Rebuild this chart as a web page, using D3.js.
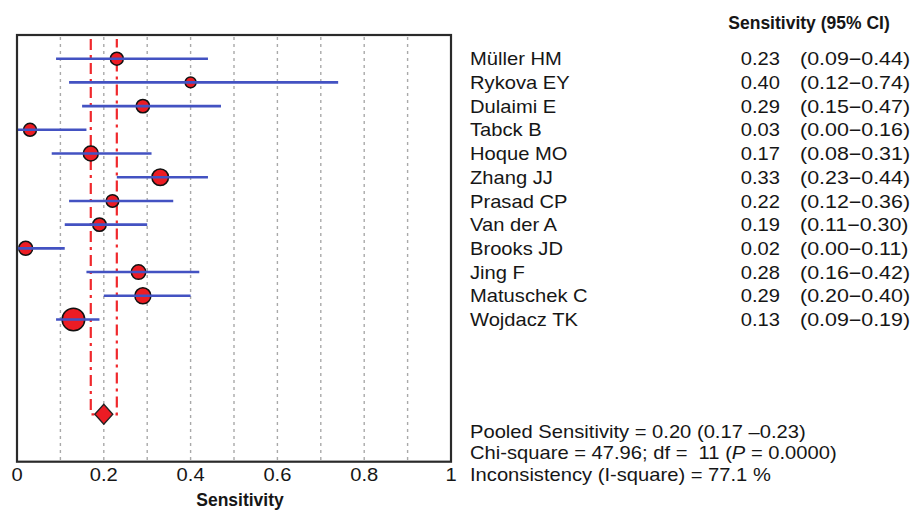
<!DOCTYPE html>
<html>
<head>
<meta charset="utf-8">
<script src="https://cdn.jsdelivr.net/npm/d3@7"></script>
<style>
  html, body { margin: 0; padding: 0; background: #fff; }
  svg { display: block; }
  text { font-family: "Liberation Sans", Arial, sans-serif; fill: #161616; white-space: pre; }
</style>
</head>
<body>
<svg id="chart" width="910" height="512"></svg>
<script>
// Study-level sensitivity estimates with 95% confidence intervals
const studies = ["Müller HM", "Rykova EY", "Dulaimi E", "Tabck B", "Hoque MO", "Zhang JJ",
                 "Prasad CP", "Van der A", "Brooks JD", "Jing F", "Matuschek C", "Wojdacz TK"];
const sensitivity = [0.23, 0.40, 0.29, 0.03, 0.17, 0.33, 0.22, 0.19, 0.02, 0.28, 0.29, 0.13];
const ciLower     = [0.09, 0.12, 0.15, 0.00, 0.08, 0.23, 0.12, 0.11, 0.00, 0.16, 0.20, 0.09];
const ciUpper     = [0.44, 0.74, 0.47, 0.16, 0.31, 0.44, 0.36, 0.30, 0.11, 0.42, 0.40, 0.19];
// Relative study weights (%), shown as marker area
const weights     = [6.3, 4.5, 6.8, 6.3, 8.5, 10.4, 6.0, 6.8, 7.4, 7.9, 9.7, 19.3];

// Pooled estimate
const pooledEstimate = 0.20;
const pooledLower = 0.17;
const pooledUpper = 0.23;

// Axis ticks
const xTickValues = [0, 0.2, 0.4, 0.6, 0.8, 1];
const xTickLabels = ["0", "0.2", "0.4", "0.6", "0.8", "1"];
const gridValues  = [0.1, 0.2, 0.3, 0.4, 0.5, 0.6, 0.7, 0.8, 0.9];

// Summary statistics text
const summaryLines = [
  ["Pooled Sensitivity = 0.20 (0.17 \u20130.23)"],
  ["Chi-square = 47.96; df =  11 (", {italic: "P"}, " = 0.0000)"],
  ["Inconsistency (I-square) = 77.1 %"]
];

const svg = d3.select("#chart");
const box = {left: 17, right: 451, top: 35, bottom: 461.7};
const stretch = 1.12;

const x = d3.scaleLinear().domain([0, 1]).range([box.left, box.right]);
// Row positions: one slot above the first study, pooled row at slot 15
const y = d3.scaleLinear().domain([-1, 17]).range([box.top, box.bottom]);
const pooledRow = 15;
const r = d3.scaleSqrt().domain([0, d3.max(weights)]).range([0, 11.3]);

// Vertical dashed grid lines
svg.append("g").selectAll("line").data(gridValues).join("line")
  .attr("x1", d => x(d)).attr("x2", d => x(d))
  .attr("y1", box.top + 2).attr("y2", box.bottom)
  .attr("stroke", "#a9a9a9").attr("stroke-width", 1.4)
  .attr("stroke-dasharray", "3,4");

// Pooled CI bounds: dash-dot verticals joined at the pooled row
const red = "#f0282c";
const pooledG = svg.append("g").attr("fill", "none").attr("stroke", red)
  .attr("stroke-width", 2.2);
pooledG.append("path")
  .attr("d", `M${x(pooledLower)},${y(-1) + 4} V${y(pooledRow)} H${x(pooledUpper)} V${y(-1) + 4}`)
  .attr("stroke-dasharray", "11,5,3,5");

// Study markers
const rows = studies.map((s, i) => ({name: s, est: sensitivity[i], lo: ciLower[i], hi: ciUpper[i], w: weights[i], i}));
svg.append("g").selectAll("circle").data(rows).join("circle")
  .attr("cx", d => x(d.est)).attr("cy", d => y(d.i)).attr("r", d => r(d.w))
  .attr("fill", "#ec1c24").attr("stroke", "#111").attr("stroke-width", 1.5);

// Confidence interval lines, drawn over the markers
svg.append("g").selectAll("line").data(rows).join("line")
  .attr("x1", d => x(d.lo)).attr("x2", d => x(d.hi))
  .attr("y1", d => y(d.i)).attr("y2", d => y(d.i))
  .attr("stroke", "#4352c2").attr("stroke-width", 2.6);

// Pooled diamond
const cx = x(pooledEstimate), cy = y(pooledRow), hw = 9, hh = 10;
svg.append("path")
  .attr("d", `M${cx - hw},${cy} L${cx},${cy - hh} L${cx + hw},${cy} L${cx},${cy + hh} Z`)
  .attr("fill", "#ec1c24").attr("stroke", "#222").attr("stroke-width", 1.3);

// Plot frame
svg.append("rect")
  .attr("x", box.left).attr("y", box.top)
  .attr("width", box.right - box.left).attr("height", box.bottom - box.top)
  .attr("fill", "none").attr("stroke", "#2a2a2a").attr("stroke-width", 2.2);

// Text helper with slight horizontal widening
function label(g, px, py, str, opts = {}) {
  const t = g.append("text")
    .attr("transform", `translate(${px},${py}) scale(${opts.stretch ?? stretch},1)`)
    .attr("font-size", opts.size ?? 18)
    .attr("font-weight", opts.weight ?? "normal")
    .attr("text-anchor", opts.anchor ?? "start");
  if (typeof str === "string") t.text(str);
  else str.forEach(part => {
    if (typeof part === "string") t.append("tspan").text(part);
    else t.append("tspan").attr("font-style", "italic").text(part.italic);
  });
  return t;
}

// X axis tick labels and title
const axisG = svg.append("g");
xTickValues.forEach((v, k) => label(axisG, x(v), 481, xTickLabels[k], {anchor: "middle"}));
label(axisG, 240, 506, "Sensitivity", {anchor: "middle", weight: "bold", size: 17.5, stretch: 1});

// Right-hand table
const tableG = svg.append("g");
label(tableG, 809, 29, "Sensitivity (95% CI)", {anchor: "middle", weight: "bold", size: 17.5, stretch: 1});
const fmt = d3.format(".2f");
rows.forEach(d => {
  const base = y(d.i) + 6.6;
  label(tableG, 470, base, d.name);
  label(tableG, 780, base, fmt(d.est), {anchor: "end"});
  label(tableG, 800, base, `(${fmt(d.lo)}\u2212${fmt(d.hi)})`, {stretch: 1.19});
});

// Summary statistics
summaryLines.forEach((line, k) => label(tableG, 470, 437.5 + k * 21.5, line));
</script>
</body>
</html>
